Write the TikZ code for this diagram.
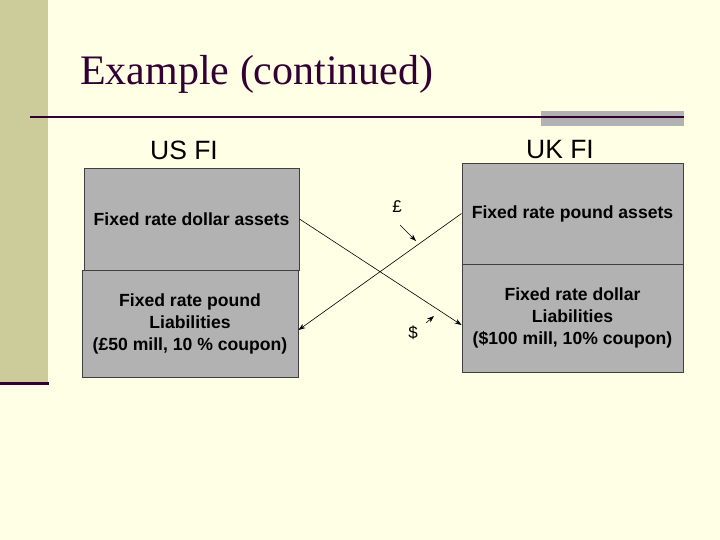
\documentclass[tikz,border=0pt]{standalone}
\usepackage{fontspec}
\setmainfont{Liberation Serif}
\setsansfont{Liberation Sans}
\usetikzlibrary{arrows.meta,calc}
\definecolor{bgc}{HTML}{FFFFE5}
\definecolor{band}{HTML}{CCCC9A}
\definecolor{plum}{HTML}{330033}
\definecolor{boxg}{HTML}{B2B2B2}
\tikzset{
  fibox/.style={draw=black!75, fill=boxg, line width=0.9pt, inner sep=0pt, align=center,
    font=\sffamily\bfseries\fontsize{17.6}{22}\selectfont},
  flow/.style={draw=black, line width=0.6pt, -{Stealth[length=7pt,width=5pt]}},
  hdr/.style={font=\sffamily\fontsize{26.5}{30}\selectfont, inner sep=0pt},
  cur/.style={font=\sffamily\fontsize{17}{18}\selectfont, inner sep=0pt}
}
\begin{document}
\begin{tikzpicture}[x=1pt,y=-1pt]
\useasboundingbox (0,0) rectangle (720,540);
\fill[bgc] (0,0) rectangle (720,540);
\fill[band] (0,0) rectangle (48,383);
\draw[plum, line width=3pt] (0,383) -- (49,383);
\fill[boxg] (541,111) rectangle (684,126);
\draw[plum, line width=2pt] (30,117) -- (684,117);
\node[anchor=base west, inner sep=0pt, text=plum, font=\fontsize{42}{46}\selectfont] (title) at (80,85) {Example (continued)};
\node[hdr] (us) at (184,150) {US FI};
\node[hdr] (uk) at (560,150) {UK FI};
\node[fibox, minimum width=215pt, minimum height=102pt] (lta) at (191.5,219) {Fixed rate dollar assets};
\node[fibox, minimum width=216pt, minimum height=107pt] (lbl) at (190,323.5) {Fixed rate pound\\Liabilities\\(£50 mill, 10 \% coupon)};
\node[fibox, minimum width=221pt, minimum height=101pt] (rta) at (572.5,213.5) {Fixed rate pound assets};
\node[fibox, minimum width=221pt, minimum height=108pt] (rbl) at (572.5,318) {Fixed rate dollar\\Liabilities\\(\$100 mill, 10\% coupon)};
\draw[flow] (lta.east) -- ($(rbl.west)+(0,7)$);
\draw[flow] (rta.west) -- ($(lbl.east)+(0,6.5)$);
\node[cur] (pound) at (397,207) {£};
\node[cur] (dollar) at (413,333) {\$};
\coordinate (pa1) at (400,225);
\coordinate (pa2) at (416,241);
\coordinate (da1) at (426,323);
\coordinate (da2) at (434,316);
\draw[flow] (pa1) -- (pa2);
\draw[flow] (da1) -- (da2);
\end{tikzpicture}
\end{document}
